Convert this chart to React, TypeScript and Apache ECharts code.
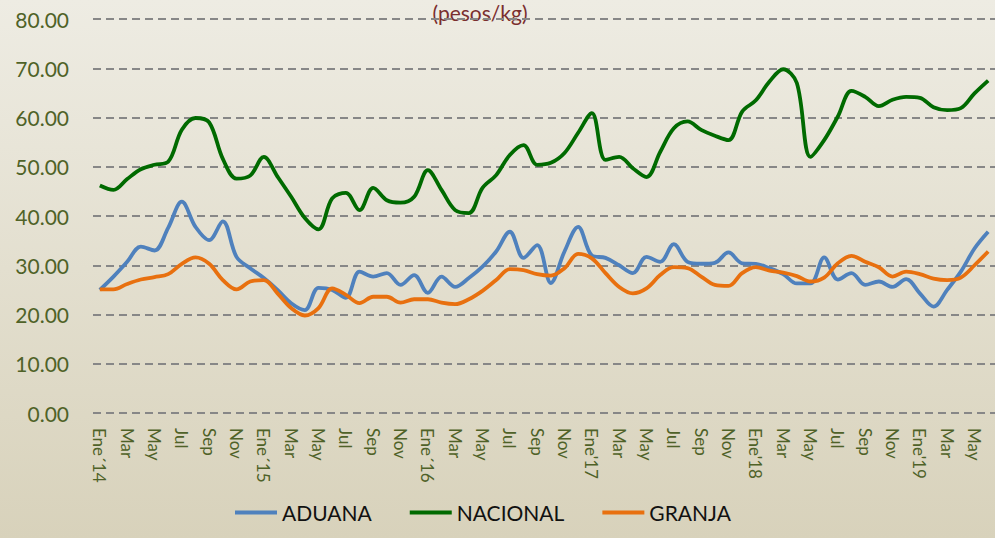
import React, { useEffect, useRef } from "react";
import * as echarts from "echarts";

const monthNames = ["Ene", "Feb", "Mar", "Abr", "May", "Jun", "Jul", "Ago", "Sep", "Oct", "Nov", "Dic"];
const yearMarks: Record<number, string> = { 2014: "Ene´14", 2015: "Ene´15", 2016: "Ene´16", 2017: "Ene'17", 2018: "Ene'18", 2019: "Ene'19" };

const categories: string[] = [];
for (let y = 2014; y <= 2019; y++) {
  for (let m = 0; m < 12; m++) {
    if (y === 2019 && m > 5) break;
    categories.push(m === 0 ? yearMarks[y] : monthNames[m]);
  }
}

const aduana = [
  25.0, 27.7, 30.7, 33.8, 33.0, 37.6, 42.9, 37.8, 35.1, 38.9, 31.7, 29.4,
  27.4, 25.0, 22.3, 20.9, 25.4, 25.0, 23.4, 28.7, 27.7, 28.4, 26.0, 28.0,
  24.4, 27.7, 25.6, 27.4, 29.7, 32.8, 36.8, 31.5, 34.1, 26.4, 32.8, 37.8,
  32.0, 31.5, 30.0, 28.4, 31.7, 30.7, 34.3, 30.7, 30.3, 30.5, 32.6, 30.4,
  30.3, 29.4, 28.2, 26.3, 26.3, 31.6, 27.1, 28.4, 26.0, 26.7, 25.6, 27.2,
  24.3, 21.6, 25.0, 28.7, 33.4, 36.8,
];

const nacional = [
  46.2, 45.3, 47.5, 49.5, 50.4, 51.0, 57.5, 59.9, 59.0, 51.6, 47.6, 48.2,
  52.0, 48.0, 43.9, 39.6, 37.3, 43.6, 44.7, 41.2, 45.7, 43.2, 42.7, 43.9,
  49.3, 45.3, 41.2, 40.6, 45.7, 48.3, 52.4, 54.4, 50.4, 50.8, 52.8, 56.9,
  60.9, 51.4, 52.0, 49.7, 47.9, 53.0, 57.8, 59.2, 57.5, 56.3, 55.4, 61.2,
  63.5, 67.3, 69.8, 67.0, 52.0, 55.4, 60.2, 65.4, 64.2, 62.3, 63.6, 64.2,
  64.0, 62.1, 61.5, 61.9, 64.9, 67.5,
];

const granja = [
  25.1, 25.1, 26.2, 27.1, 27.6, 28.2, 30.3, 31.6, 30.3, 27.0, 25.1, 26.7,
  27.0, 24.3, 21.3, 19.8, 21.3, 25.3, 24.0, 22.3, 23.6, 23.6, 22.4, 23.1,
  23.1, 22.4, 22.1, 23.1, 24.8, 27.0, 29.2, 29.0, 28.2, 27.9, 29.4, 32.3,
  31.4, 28.4, 25.6, 24.3, 25.3, 28.0, 29.6, 29.4, 27.7, 26.0, 25.8, 28.4,
  29.6, 28.9, 28.5, 27.8, 26.7, 27.5, 30.4, 31.9, 30.7, 29.6, 27.7, 28.7,
  28.2, 27.3, 27.0, 27.5, 30.0, 32.8,
];

const seriesNames = ["ADUANA", "NACIONAL", "GRANJA"];
const seriesColors = ["#4f81bd", "#006a00", "#e8700f"];
const titleText = "(pesos/kg)";

export default function App() {
  const ref = useRef<HTMLDivElement>(null);
  useEffect(() => {
    if (!ref.current) return;
    const chart = echarts.init(ref.current, null, { renderer: "svg" });
    const font = "Lato";
    const data = [aduana, nacional, granja];
    chart.setOption({
      animation: false,
      backgroundColor: new echarts.graphic.LinearGradient(0, 0, 0, 1, [
        { offset: 0, color: "#eeece3" },
        { offset: 1, color: "#d8d2bb" },
      ]),
      textStyle: { fontFamily: font },
      grid: { left: 93, right: 0, top: 19, bottom: 125, containLabel: false },
      graphic: [
        {
          type: "text",
          x: 480,
          y: 2,
          style: {
            text: titleText,
            fill: "#7a2e2e",
            fontSize: 21,
            lineHeight: 21,
            fontFamily: font,
            align: "center",
            verticalAlign: "top",
          },
        },
      ],
      legend: {
        left: 230,
        bottom: 10,
        icon: "rect",
        itemWidth: 42,
        itemHeight: 4,
        itemGap: 38,
        textStyle: { fontSize: 21, color: "#111", fontFamily: font },
        data: seriesNames,
      },
      xAxis: {
        type: "category",
        data: categories,
        boundaryGap: true,
        axisLine: { show: false },
        axisTick: { show: false },
        axisLabel: {
          interval: 1,
          rotate: -90,
          margin: 15,
          fontSize: 17,
          color: "#4f6228",
          fontFamily: font,
        },
      },
      yAxis: {
        type: "value",
        min: 0,
        max: 80,
        interval: 10,
        axisLine: { show: false },
        axisTick: { show: false },
        axisLabel: {
          formatter: (v: number) => v.toFixed(2),
          fontSize: 21,
          color: "#4f6228",
          margin: 24,
          fontFamily: font,
        },
        splitLine: { lineStyle: { color: "#878787", type: [8, 5], width: 2 } },
      },
      series: seriesNames.map((name, i) => ({
        name,
        type: "line",
        data: data[i],
        smooth: 0.35,
        symbol: "none",
        lineStyle: { color: seriesColors[i], width: 3.8 },
        itemStyle: { color: seriesColors[i] },
      })),
    });
    return () => chart.dispose();
  }, []);
  return (
    <div
      ref={ref}
      style={{ position: "absolute", left: 0, top: 0, width: 995, height: 538 }}
    />
  );
}
